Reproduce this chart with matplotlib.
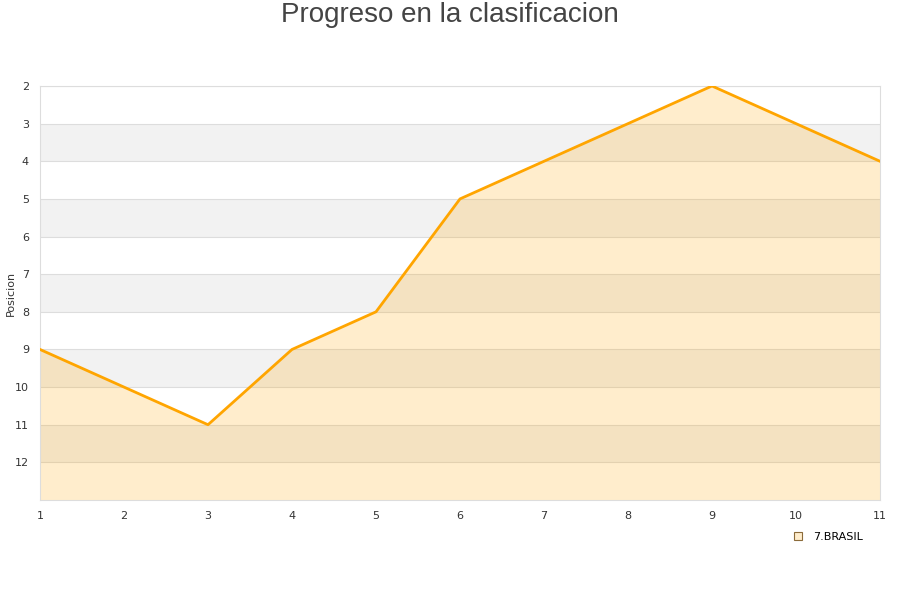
import matplotlib.pyplot as plt
from matplotlib.lines import Line2D

jornadas = [1, 2, 3, 4, 5, 6, 7, 8, 9, 10, 11]
posicion = [9, 10, 11, 9, 8, 5, 4, 3, 2, 3, 4]
equipo = '7.BRASIL'

fig = plt.figure(figsize=(9, 6), dpi=100)
ax = fig.add_axes([40 / 900, 100 / 600, 840 / 900, 414 / 600])

# alternating background bands
for y in range(2, 13):
    if y % 2 == 1:
        ax.axhspan(y, y + 1, color='#f2f2f2', zorder=0, lw=0)
    ax.axhline(y, color='#dddddd', lw=0.8, zorder=1)

ax.fill_between(jornadas, posicion, 13, color='#FFA500', alpha=0.2, lw=0, zorder=2)
ax.plot(jornadas, posicion, color='#FFA500', lw=2, zorder=3)

ax.set_xlim(1, 11)
ax.set_ylim(13, 2)
ax.set_xticks(jornadas)
ax.set_yticks(range(2, 13))
ax.tick_params(length=0, labelsize=8, colors='#333333', pad=8)
for s in ax.spines.values():
    s.set_color('#dddddd')
    s.set_linewidth(0.8)

ax.set_ylabel('Posicion', fontsize=8, color='#333333')
ax.yaxis.set_label_coords(-24 / 840, 0.5)
fig.text(0.5, 1 - 15 / 600, 'Progreso en la clasificacion', ha='center', va='center',
         fontsize=20, color='#444444', family='Liberation Sans')

handle = Line2D([], [], marker='s', linestyle='None', markersize=6,
                markerfacecolor='#FFEDCC', markeredgecolor='#8B6B3A', markeredgewidth=0.8)
fig.legend([handle], [equipo], loc='center', bbox_to_anchor=(825 / 900, 1 - 537 / 600),
           frameon=False, fontsize=8, handletextpad=0.3)

plt.savefig('out.png')
